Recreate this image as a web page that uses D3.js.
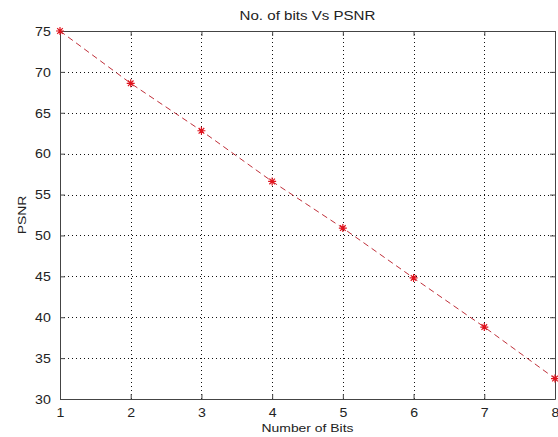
<!DOCTYPE html>
<html><head><meta charset="utf-8">
<script src="https://cdn.jsdelivr.net/npm/d3@7"></script>
<style>
body{margin:0;background:#fff;}
text{font-family:"Liberation Sans",Arial,sans-serif;fill:#222;}
</style></head>
<body>
<svg id="c" width="558" height="437"></svg>
<script>
const bits = [1,2,3,4,5,6,7,8];
const psnr = [75, 68.6, 62.8, 56.6, 50.9, 44.8, 38.8, 32.5];
const xTicks = [1,2,3,4,5,6,7,8];
const yTicks = [30,35,40,45,50,55,60,65,70,75];
const title = "No. of bits Vs PSNR";
const xLabel = "Number of Bits";
const yLabel = "PSNR";

const svg = d3.select("#c");
const m = {l:60, r:3, t:31, b:38};
const W = 558, H = 437;
const x = d3.scaleLinear().domain([1,8]).range([m.l, W - m.r]);
const y = d3.scaleLinear().domain([30,75]).range([H - m.b, m.t]);
const axisCol = "#444";
const sx = 1.18;

svg.append("rect").attr("width",W).attr("height",H).attr("fill","#fff");

// grid
const grid = svg.append("g").attr("stroke","#111").attr("stroke-width",1).attr("stroke-dasharray","1,3");
grid.selectAll(".gx").data(xTicks.slice(1,-1)).join("line")
  .attr("x1",d=>Math.round(x(d))+0.5).attr("x2",d=>Math.round(x(d))+0.5)
  .attr("y1",y(30)).attr("y2",y(75));
grid.selectAll(".gy").data(yTicks.slice(1,-1)).join("line")
  .attr("y1",d=>Math.round(y(d))+0.5).attr("y2",d=>Math.round(y(d))+0.5)
  .attr("x1",x(1)).attr("x2",x(8));

// axes
const xAxis = d3.axisBottom(x).tickValues(xTicks).tickFormat(d3.format("d")).tickSizeInner(-5).tickSizeOuter(0).tickPadding(9);
const yAxis = d3.axisLeft(y).tickValues(yTicks).tickFormat(d3.format("d")).tickSizeInner(-5).tickSizeOuter(0).tickPadding(7);
const xTop = d3.axisTop(x).tickValues(xTicks).tickFormat("").tickSizeInner(-5).tickSizeOuter(0);
const yRight = d3.axisRight(y).tickValues(yTicks).tickFormat("").tickSizeInner(-5).tickSizeOuter(0);

function style(g){
  g.selectAll("path").attr("stroke",axisCol);
  g.selectAll("line").attr("stroke",axisCol);
  g.selectAll("text").attr("font-size",12).attr("fill","#222")
   .attr("font-family","Liberation Sans, Arial, sans-serif");
}
const gx = svg.append("g").attr("transform",`translate(0,${y(30)})`).call(xAxis).call(style);
gx.selectAll("text").attr("transform",`scale(${sx},1)`);
const gy = svg.append("g").attr("transform",`translate(${x(1)},0)`).call(yAxis).call(style);
gy.selectAll("text").attr("transform",`translate(-1,0) scale(${sx},1)`).attr("dy","0.36em");
svg.append("g").attr("transform",`translate(0,${y(75)})`).call(xTop).call(style);
svg.append("g").attr("transform",`translate(${x(8)},0)`).call(yRight).call(style);

// line
const line = d3.line().x((d,i)=>x(bits[i])).y(d=>y(d));
svg.append("path").datum(psnr).attr("d",line).attr("fill","none")
  .attr("stroke","#c0303a").attr("stroke-width",1).attr("stroke-dasharray","6,4");

// asterisk markers
const r = 4;
const star = `M${-r},0L${r},0M0,${-r}L0,${r}M${-r*0.7},${-r*0.7}L${r*0.7},${r*0.7}M${-r*0.7},${r*0.7}L${r*0.7},${-r*0.7}`;
svg.append("g").selectAll("path").data(psnr).join("path")
  .attr("transform",(d,i)=>`translate(${x(bits[i])},${y(d)})`)
  .attr("d",star).attr("stroke","#e0141e").attr("stroke-width",1.2).attr("fill","none");

// labels
const cx = (x(1)+x(8))/2;
svg.append("text").attr("transform",`translate(${cx},20) scale(${sx},1)`)
  .attr("text-anchor","middle").attr("font-size",12.8).text(title);
svg.append("text").attr("transform",`translate(${cx},432) scale(${sx},1)`)
  .attr("text-anchor","middle").attr("font-size",11.8).text(xLabel);
svg.append("text").attr("transform",`translate(26,${(y(30)+y(75))/2}) rotate(-90) scale(${sx},1)`)
  .attr("text-anchor","middle").attr("font-size",11.8).text(yLabel);
</script>
</body></html>
